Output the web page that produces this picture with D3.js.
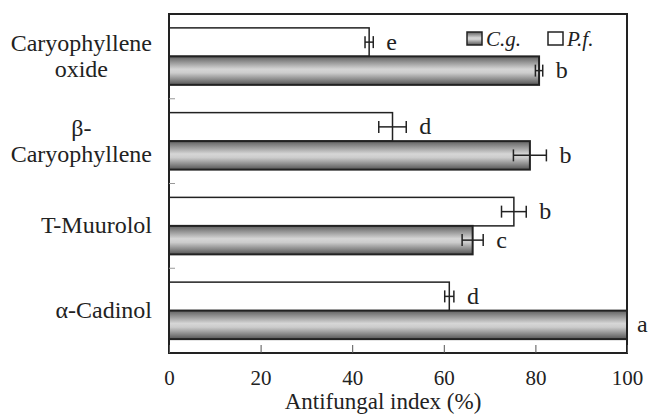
<!DOCTYPE html>
<html>
<head>
<meta charset="utf-8">
<script src="https://cdn.jsdelivr.net/npm/d3@7"></script>
<style>
  body { margin: 0; background: #fff; }
</style>
</head>
<body>
<div id="chart"></div>
<script>
// data
const categories = ["Caryophyllene oxide", "β-Caryophyllene", "T-Muurolol", "α-Cadinol"];
const catLines = [["Caryophyllene", "oxide"], ["β-", "Caryophyllene"], ["T-Muurolol"], ["α-Cadinol"]];
const cgValues = [80.8, 78.8, 66.3, 100];
const cgErrors = [0.8, 3.6, 2.3, 0];
const cgLetters = ["b", "b", "c", "a"];
const pfValues = [43.7, 48.8, 75.3, 61.2];
const pfErrors = [0.9, 3.0, 2.7, 1.0];
const pfLetters = ["e", "d", "b", "d"];
const xTicks = [0, 20, 40, 60, 80, 100];

const W = 649, H = 419;
const plotLeft = 169, plotRight = 627, plotTop = 14, plotBottom = 353;
const serif = "Liberation Serif, Tinos, Times New Roman, DejaVu Serif, serif";

const svg = d3.select("#chart").append("svg")
    .attr("width", W).attr("height", H)
    .attr("font-family", serif);

// gradient for the C.g. bars
const grad = svg.append("defs").append("linearGradient")
    .attr("id", "cgGrad").attr("x1", 0).attr("y1", 0).attr("x2", 0).attr("y2", 1);
grad.append("stop").attr("offset", "0%").attr("stop-color", "#606060");
grad.append("stop").attr("offset", "45%").attr("stop-color", "#d6d6d6");
grad.append("stop").attr("offset", "58%").attr("stop-color", "#cccccc");
grad.append("stop").attr("offset", "100%").attr("stop-color", "#555555");

const x = d3.scaleLinear().domain([0, 100]).range([plotLeft, plotRight]);
const y = d3.scaleBand().domain(categories).range([plotTop, plotBottom]);
const sub = d3.scaleBand().domain(["pf", "cg"]).range([0, y.bandwidth()]).paddingOuter(0.487);

const rows = categories.map((c, i) => ({
  cat: c, lines: catLines[i],
  series: [
    {key: "pf", v: pfValues[i], e: pfErrors[i], l: pfLetters[i]},
    {key: "cg", v: cgValues[i], e: cgErrors[i], l: cgLetters[i]}
  ]
}));

// bars
const g = svg.selectAll("g.row").data(rows).enter().append("g")
    .attr("class", "row")
    .attr("transform", d => `translate(0,${y(d.cat)})`);

g.selectAll("rect").data(d => d.series).enter().append("rect")
    .attr("x", x(0))
    .attr("y", d => sub(d.key))
    .attr("width", d => x(d.v) - x(0))
    .attr("height", sub.bandwidth())
    .attr("fill", d => d.key == "cg" ? "url(#cgGrad)" : "#fff")
    .attr("stroke", "#222")
    .attr("stroke-width", d => d.key == "cg" ? 2 : 1.5);

// error bars
const eb = g.selectAll("g.err").data(d => d.series.filter(s => s.e > 0)).enter().append("g")
    .attr("class", "err")
    .attr("stroke", "#222").attr("stroke-width", 1.5);
eb.append("line")
    .attr("x1", d => x(d.v - d.e)).attr("x2", d => x(d.v + d.e))
    .attr("y1", d => sub(d.key) + sub.bandwidth() / 2)
    .attr("y2", d => sub(d.key) + sub.bandwidth() / 2);
[-1, 1].forEach(s => {
  eb.append("line")
    .attr("x1", d => x(d.v + s * d.e)).attr("x2", d => x(d.v + s * d.e))
    .attr("y1", d => sub(d.key) + sub.bandwidth() / 2 - 6)
    .attr("y2", d => sub(d.key) + sub.bandwidth() / 2 + 6);
});

// significance letters
g.selectAll("text.letter").data(d => d.series).enter().append("text")
    .attr("class", "letter")
    .attr("x", d => x(d.v + d.e) + (d.e > 0 ? 13 : 10))
    .attr("y", d => sub(d.key) + sub.bandwidth() / 2 + 7.5)
    .attr("font-size", 24).attr("fill", "#222")
    .text(d => d.l);

// frame
svg.append("rect")
    .attr("x", plotLeft).attr("y", plotTop)
    .attr("width", plotRight - plotLeft).attr("height", plotBottom - plotTop)
    .attr("fill", "none").attr("stroke", "#222").attr("stroke-width", 2);

// small category ticks on the left
svg.selectAll("line.ytick").data(categories.slice(1)).enter().append("line")
    .attr("x1", plotLeft).attr("x2", plotLeft + 6)
    .attr("y1", d => y(d)).attr("y2", d => y(d))
    .attr("stroke", "#999").attr("stroke-width", 1);

// x axis
const xAxis = svg.append("g")
    .attr("transform", `translate(0,${plotBottom})`)
    .call(d3.axisBottom(x).tickValues(xTicks).tickSize(-8).tickPadding(17))
    .attr("font-family", serif).attr("font-size", 21);
xAxis.select(".domain").remove();
xAxis.selectAll("line").attr("stroke", "#555");
xAxis.selectAll("text").attr("fill", "#222");

svg.append("text")
    .attr("x", (plotLeft + plotRight) / 2 - 15).attr("y", 409)
    .attr("text-anchor", "middle")
    .attr("font-size", 23).attr("fill", "#222")
    .text("Antifungal index (%)");

// category labels
const lab = svg.selectAll("g.cat").data(rows).enter().append("g").attr("class", "cat");
lab.each(function(d) {
  const el = d3.select(this);
  const cy = y(d.cat) + y.bandwidth() / 2;
  const n = d.lines.length;
  const t = el.selectAll("text").data(d.lines).enter().append("text")
      .attr("y", (l, i) => cy + 7.5 + (i - (n - 1) / 2) * 26)
      .attr("text-anchor", "middle")
      .attr("font-size", 24).attr("fill", "#222")
      .text(l => l);
  let maxW = 0;
  t.each(function() { maxW = Math.max(maxW, this.getComputedTextLength()); });
  t.attr("x", 152 - maxW / 2);
});

// legend
const legend = [{key: "cg", label: "C.g.", x: 467}, {key: "pf", label: "P.f.", x: 548}];
const lg = svg.selectAll("g.legend").data(legend).enter().append("g").attr("class", "legend");
lg.append("rect")
    .attr("x", d => d.x).attr("y", 32).attr("width", 15).attr("height", 13)
    .attr("fill", d => d.key == "cg" ? "url(#cgGrad)" : "#fff")
    .attr("stroke", "#222").attr("stroke-width", 1.5);
lg.append("text")
    .attr("x", d => d.x + 19).attr("y", 46)
    .attr("font-size", 21).attr("font-style", "italic").attr("fill", "#222")
    .text(d => d.label);
</script>
</body>
</html>
